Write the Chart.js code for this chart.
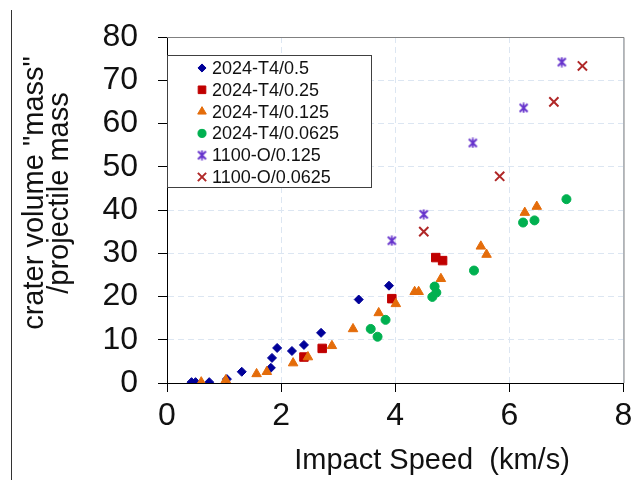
<!DOCTYPE html>
<html>
<head>
<meta charset="utf-8">
<script src="https://cdn.jsdelivr.net/npm/chart.js@4.4.1/dist/chart.umd.min.js"></script>
<style>
  html, body { margin: 0; padding: 0; background: #fff; }
</style>
</head>
<body>
<canvas id="chart" width="632" height="480"></canvas>
<script>
const FONT = "'Liberation Sans', Arial, sans-serif";

// axis labels
const X_TITLE = 'Impact Speed  (km/s)';
const Y_TITLE = ['crater volume "mass"', '/projectile mass'];

// series names (legend order)
const SERIES = ['2024-T4/0.5', '2024-T4/0.25', '2024-T4/0.125', '2024-T4/0.0625', '1100-O/0.125', '1100-O/0.0625'];

// [impact speed km/s, crater mass / projectile mass]
const T4_05 = [[0.43, 0.2], [0.50, 0.2], [0.74, 0.2], [1.05, 0.9], [1.31, 2.6], [1.82, 3.5], [1.84, 5.8],
  [1.93, 8.1], [2.19, 7.4], [2.40, 8.8], [2.70, 11.6], [3.36, 19.3], [3.89, 22.5]];
const T4_025 = [[2.40, 6.0], [2.72, 8.0], [3.94, 19.5], [4.71, 29.0], [4.83, 28.3]];
const T4_0125 = [[0.60, 0.2], [1.03, 0.7], [1.57, 2.1], [1.75, 2.6], [2.21, 4.6], [2.47, 6.0], [2.89, 8.6],
  [3.26, 12.5], [3.71, 16.2], [4.01, 18.3], [4.34, 21.1], [4.41, 21.1], [4.80, 24.1], [5.50, 31.6],
  [5.60, 29.7], [6.27, 39.4], [6.48, 40.8]];
const T4_00625 = [[3.57, 12.5], [3.69, 10.7], [3.83, 14.6], [4.65, 19.9], [4.72, 20.9], [4.69, 22.3],
  [5.38, 26.0], [6.24, 37.1], [6.44, 37.6], [7.00, 42.5]];
const O_0125 = [[3.94, 32.9], [4.50, 39.0], [5.36, 55.5], [6.25, 63.6], [6.92, 74.2]];
const O_00625 = [[4.50, 35.0], [5.83, 47.8], [6.78, 65.0], [7.28, 73.3]];

const X_MIN = 0, X_MAX = 8, X_STEP = 2;
const Y_MIN = 0, Y_MAX = 80, Y_STEP = 10;

// excel-like asterisk marker
function asterisk(color) {
  const c = document.createElement('canvas');
  c.width = 11; c.height = 11;
  const g = c.getContext('2d');
  g.strokeStyle = color;
  g.lineWidth = 1.8;
  g.beginPath();
  g.moveTo(1.5, 1.5); g.lineTo(9.5, 9.5);
  g.moveTo(9.5, 1.5); g.lineTo(1.5, 9.5);
  g.moveTo(5.5, 0.5); g.lineTo(5.5, 10.5);
  g.stroke();
  return c;
}

const toXY = arr => arr.map(p => ({x: p[0], y: p[1]}));

const datasets = [
  {label: SERIES[0], data: toXY(T4_05), pointStyle: 'rectRot', pointRadius: 4.5,
    backgroundColor: '#000099', borderColor: '#000099', borderWidth: 1, order: 6},
  {label: SERIES[1], data: toXY(T4_025), pointStyle: 'rect', pointRadius: 6,
    backgroundColor: '#C00000', borderColor: '#C00000', borderWidth: 1, order: 5},
  {label: SERIES[2], data: toXY(T4_0125), pointStyle: 'triangle', pointRadius: 5.5,
    backgroundColor: '#E46C0A', borderColor: '#E46C0A', borderWidth: 1, order: 4},
  {label: SERIES[3], data: toXY(T4_00625), pointStyle: 'circle', pointRadius: 4.5,
    backgroundColor: '#00B050', borderColor: '#00B050', borderWidth: 1, order: 3},
  {label: SERIES[4], data: toXY(O_0125), pointStyle: asterisk('#6633CC'), pointRadius: 5,
    backgroundColor: '#6633CC', borderColor: '#6633CC', borderWidth: 2, order: 2},
  {label: SERIES[5], data: toXY(O_00625), pointStyle: 'crossRot', pointRadius: 6.5,
    backgroundColor: '#B02828', borderColor: '#B02828', borderWidth: 2, order: 1}
];

// top/right frame of the plot
const frame = {
  id: 'frame',
  beforeDatasetsDraw(chart) {
    const {ctx, chartArea: a} = chart;
    ctx.save();
    ctx.strokeStyle = '#808080';
    ctx.lineWidth = 1;
    ctx.beginPath();
    ctx.moveTo(a.left, a.top + 0.5);
    ctx.lineTo(a.right + 0.5, a.top + 0.5);
    ctx.lineTo(a.right + 0.5, a.bottom);
    ctx.stroke();
    ctx.restore();
  }
};

// boxed legend in the upper left corner of the plot
const boxLegend = {
  id: 'boxLegend',
  afterDatasetsDraw(chart) {
    const {ctx, chartArea: a} = chart;
    const x0 = a.left, y0 = a.top + 18, w = 204, h = 132, row = 21.8;
    ctx.save();
    ctx.fillStyle = '#fff';
    ctx.fillRect(x0, y0, w, h);
    ctx.strokeStyle = '#404040';
    ctx.lineWidth = 1;
    ctx.strokeRect(x0 + 0.5, y0 + 0.5, w, h);
    ctx.font = '18px ' + FONT;
    ctx.textBaseline = 'middle';
    chart.data.datasets.forEach((ds, i) => {
      const y = y0 + 13 + i * row;
      ctx.fillStyle = ds.backgroundColor;
      ctx.strokeStyle = ds.borderColor;
      ctx.lineWidth = ds.borderWidth;
      Chart.helpers.drawPoint(ctx, {pointStyle: ds.pointStyle, radius: ds.pointRadius * 0.9,
        borderWidth: ds.borderWidth, rotation: 0}, x0 + 35, y);
      ctx.fillStyle = '#111';
      ctx.fillText(ds.label, x0 + 45, y + 1);
    });
    ctx.restore();
  }
};

// axis titles, placed like the original (off-centre)
const titles = {
  id: 'titles',
  afterDraw(chart) {
    const {ctx} = chart;
    ctx.save();
    ctx.fillStyle = '#111';
    ctx.font = '29px ' + FONT;
    ctx.textAlign = 'center';
    ctx.textBaseline = 'middle';
    ctx.fillText(X_TITLE, 432, 461);
    ctx.translate(35, 193);
    ctx.rotate(-Math.PI / 2);
    Y_TITLE.forEach((t, i) => ctx.fillText(t, 0, i * 25));
    ctx.restore();
    // page edge line left of the figure
    ctx.save();
    ctx.strokeStyle = '#333';
    ctx.lineWidth = 1;
    ctx.beginPath();
    ctx.moveTo(11.5, 10);
    ctx.lineTo(11.5, 480);
    ctx.stroke();
    ctx.restore();
  }
};

const dashFor = (ctx, edge) => (ctx.tick && ctx.tick.value === edge) ? [] : [6, 4];

new Chart(document.getElementById('chart'), {
  type: 'scatter',
  data: {datasets},
  options: {
    responsive: false,
    animation: false,
    events: [],
    layout: {padding: {top: 37, right: 8, bottom: 0, left: 0}},
    plugins: {legend: {display: false}, tooltip: {enabled: false}},
    scales: {
      x: {
        type: 'linear',
        min: X_MIN, max: X_MAX,
        ticks: {stepSize: X_STEP, color: '#111', padding: 5, font: {family: FONT, size: 32}},
        grid: {color: '#DCE6F2', tickColor: '#000', tickLength: 9, lineWidth: 1},
        border: {color: '#000', width: 1, dash: ctx => dashFor(ctx, X_MAX)},
        afterFit(s) { s.height = 97; s.paddingLeft = 0; s.paddingRight = 0; }
      },
      y: {
        type: 'linear',
        min: Y_MIN, max: Y_MAX,
        ticks: {stepSize: Y_STEP, color: '#111', padding: 20, font: {family: FONT, size: 32}},
        grid: {color: '#DCE6F2', tickColor: '#000', tickLength: 9, lineWidth: 1},
        border: {color: '#000', width: 1, dash: ctx => dashFor(ctx, Y_MAX)},
        afterFit(s) { s.width = 167; s.paddingTop = 0; s.paddingBottom = 0; }
      }
    }
  },
  plugins: [frame, boxLegend, titles]
});
</script>
</body>
</html>
